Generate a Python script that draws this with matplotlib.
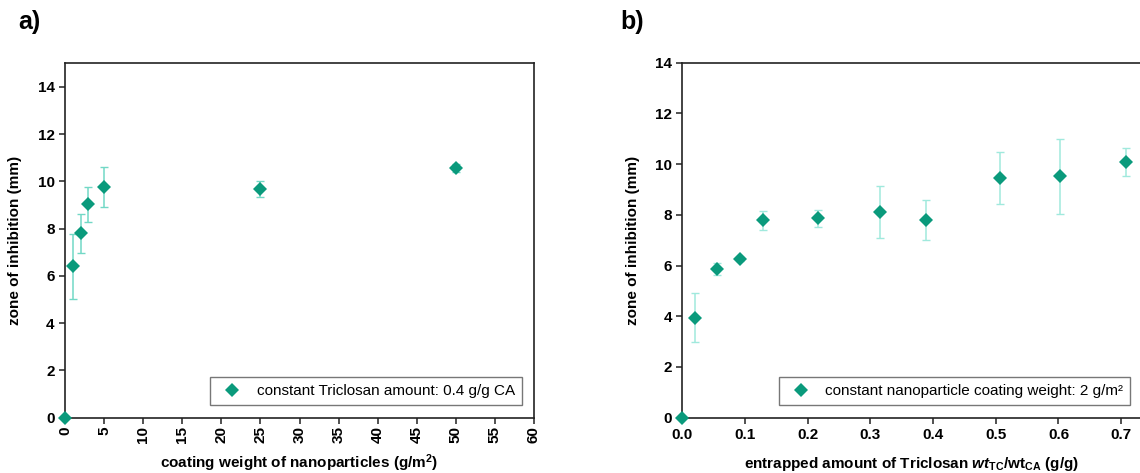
import matplotlib
matplotlib.use("Agg")
import matplotlib.pyplot as plt
from matplotlib.ticker import MultipleLocator
from matplotlib.lines import Line2D

plt.rcParams['font.family'] = ['Liberation Sans', 'DejaVu Sans']
plt.rcParams['mathtext.fontset'] = 'custom'
plt.rcParams['mathtext.rm'] = 'Liberation Sans:bold'
plt.rcParams['mathtext.it'] = 'Liberation Sans:bold:italic'
plt.rcParams['mathtext.bf'] = 'Liberation Sans:bold'

# Panel a data
coating_weight = [0, 1, 2, 3, 5, 25, 50]
zone_a = [0.0, 6.4, 7.8, 9.03, 9.75, 9.68, 10.57]
err_a = [0.0, 1.37, 0.82, 0.74, 0.85, 0.34, 0.17]

# Panel b data
triclosan_amount = [0.0, 0.021, 0.056, 0.092, 0.129, 0.216, 0.315, 0.388, 0.507, 0.602, 0.708]
zone_b = [0.0, 3.95, 5.86, 6.25, 7.79, 7.87, 8.11, 7.79, 9.44, 9.52, 10.09]
err_b = [0.0, 0.95, 0.24, 0.08, 0.38, 0.33, 1.03, 0.8, 1.03, 1.48, 0.54]

xticks_a = [0, 5, 10, 15, 20, 25, 30, 35, 40, 45, 50, 55, 60]
xticks_b = [0.0, 0.1, 0.2, 0.3, 0.4, 0.5, 0.6, 0.7]
xticklabels_b = ['0.0', '0.1', '0.2', '0.3', '0.4', '0.5', '0.6', '0.7']
yticks = [0, 2, 4, 6, 8, 10, 12, 14]

legend_a = "constant Triclosan amount: 0.4 g/g CA"
legend_b = "constant nanoparticle coating weight: 2 g/m²"

W, H = 1140, 473
fig = plt.figure(figsize=(W / 100, H / 100), dpi=100)

marker_color = '#0a9a7c'
err_color_a = '#72d8c6'
err_color_b = '#a0e9dd'


def frac(l, r, t, b):
    return [l / W, 1 - b / H, (r - l) / W, (b - t) / H]


ax1 = fig.add_axes(frac(65, 534, 63.3, 417.7))
ax2 = fig.add_axes(frac(682.3, 1140, 62.7, 417.7))

for ax, x, y, e, ec in [(ax1, coating_weight, zone_a, err_a, err_color_a),
                        (ax2, triclosan_amount, zone_b, err_b, err_color_b)]:
    ax.errorbar(x, y, yerr=e, fmt='none', ecolor=ec, elinewidth=1.1,
                capsize=3, capthick=1.0, zorder=2, clip_on=False)
    ax.plot(x, y, linestyle='none', marker='D', markersize=6.8,
            color=marker_color, markeredgewidth=0, zorder=3, clip_on=False)
    for s in ax.spines.values():
        s.set_linewidth(1.2)
        s.set_color('#222222')
    ax.tick_params(axis='both', direction='out', length=4, width=1.1,
                   labelsize=11, top=False, right=False, color='#222222')

# Panel a axes
ax1.set_xlim(0, 60)
ax1.set_ylim(0, 15)
ax1.set_xticks(xticks_a)
ax1.set_yticks(yticks)
ax1.tick_params(axis='x', labelrotation=90, pad=2)
for lbl in ax1.get_xticklabels() + ax1.get_yticklabels():
    lbl.set_fontweight('bold')
ax1.set_xlabel(r"coating weight of nanoparticles (g/m$^{2}$)", fontsize=11,
               fontweight='bold', labelpad=7)
ax1.set_ylabel("zone of inhibition (mm)", fontsize=11, fontweight='bold', labelpad=11)

# Panel b axes
ax2.set_xlim(0, 0.73)
ax2.set_ylim(0, 14)
ax2.set_xticks(xticks_b)
ax2.set_xticklabels(xticklabels_b)
ax2.set_yticks(yticks)
for lbl in ax2.get_xticklabels() + ax2.get_yticklabels():
    lbl.set_fontweight('bold')
ax2.spines['right'].set_visible(False)
ax2.set_xlabel(r"entrapped amount of Triclosan $\mathit{wt}_{\mathrm{TC}}$/wt$_{\mathrm{CA}}$ (g/g)",
               fontsize=11, fontweight='bold', labelpad=9)
ax2.set_ylabel("zone of inhibition (mm)", fontsize=11, fontweight='bold', labelpad=11)

# Legends
h = Line2D([], [], linestyle='none', marker='D', markersize=6.8,
           color=marker_color, markeredgewidth=0)
for ax, txt, anchor, bp in [(ax1, legend_a, (0.309, 0.036), 0.45),
                            (ax2, legend_b, (0.211, 0.036), 0.45)]:
    leg = ax.legend([h], [txt], loc='lower left', bbox_to_anchor=anchor,
                    fontsize=11, frameon=True, fancybox=False, borderpad=bp,
                    handlelength=2.0, handletextpad=0.6, borderaxespad=0)
    fr = leg.get_frame()
    fr.set_edgecolor('#777777')
    fr.set_linewidth(1.0)
    fr.set_alpha(1)

# Panel labels
fig.text(18 / W, 1 - 22 / H, "a)", fontsize=18, fontweight='bold', va='center', ha='left')
fig.text(620 / W, 1 - 22 / H, "b)", fontsize=18, fontweight='bold', va='center', ha='left')

fig.savefig("out.png", dpi=100)
